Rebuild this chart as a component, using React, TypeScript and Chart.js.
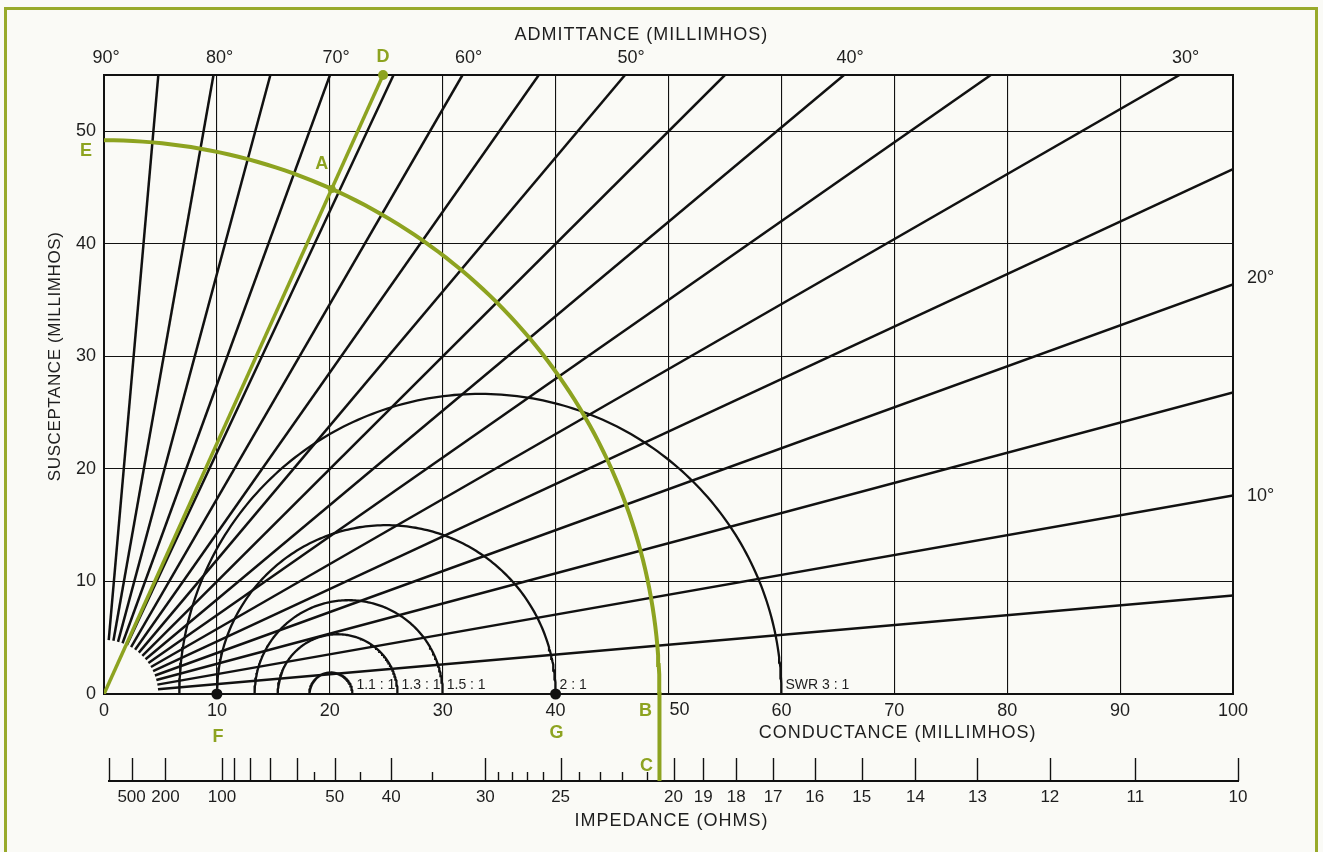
import React, { useEffect, useRef } from 'react';
import { Chart, registerables } from 'chart.js';

Chart.register(...registerables);

// ---- data ----
const CONDUCTANCE_TICKS = [0, 10, 20, 30, 40, 50, 60, 70, 80, 90, 100];
const SUSCEPTANCE_TICKS = [0, 10, 20, 30, 40, 50];
const CONDUCTANCE_MAX = 100;
const SUSCEPTANCE_MAX = 55;
const PHASE_ANGLES = [5, 10, 15, 20, 25, 30, 35, 40, 45, 50, 55, 60, 65, 70, 75, 80, 85];
const PHASE_LINE_START = 4.8;
const TOP_ANGLE_LABELS = [90, 80, 70, 60, 50, 40, 30];
const SIDE_ANGLE_LABELS = [20, 10];
const REFERENCE_ADMITTANCE = 20; // 50 ohms
const SWR_RATIOS = [1.1, 1.3, 1.5, 2, 3];
const SWR_LABELS = ['1.1 : 1', '1.3 : 1', '1.5 : 1', '2 : 1', 'SWR 3 : 1'];
const EXAMPLE_ADMITTANCE = 49.2;
const EXAMPLE_ANGLE = 65.8;
const MARKED_CONDUCTANCES = [10, 40];
const MARKED_LETTERS = ['F', 'G'];
const IMPEDANCE_LONG_TICKS = [Infinity, 500, 200, 100, 90, 80, 70, 60, 50, 40, 30, 25, 20, 19, 18, 17, 16, 15, 14, 13, 12, 11, 10];
const IMPEDANCE_SHORT_TICKS = [55, 45, 35, 29, 28, 27, 26, 24, 23, 22, 21];
const IMPEDANCE_LABELS = [500, 200, 100, 50, 40, 30, 25, 20, 19, 18, 17, 16, 15, 14, 13, 12, 11, 10];
const EXAMPLE_IMPEDANCE_TICK = 21;

// ---- styles ----
const FONT = '"Liberation Sans", Arial, sans-serif';
const GREEN = '#8da320';
const FRAME_GREEN = '#98aa2a';
const INK = '#111111';
const TEXT = '#1e1e1e';
const BG = '#fafaf6';

const rad = (d: number) => (d * Math.PI) / 180;
const toConductance = (z: number) => (z === Infinity ? 0 : 1000 / z);

const arcPoints = (cx: number, r: number, fromDeg: number, toDeg: number) => {
  const pts: { x: number; y: number }[] = [];
  for (let d = fromDeg; d <= toDeg; d += 1) {
    pts.push({ x: cx + r * Math.cos(rad(d)), y: r * Math.sin(rad(d)) });
  }
  return pts;
};

const phaseEnd = (a: number) => {
  const t = Math.tan(rad(a));
  return t * CONDUCTANCE_MAX <= SUSCEPTANCE_MAX
    ? { x: CONDUCTANCE_MAX, y: CONDUCTANCE_MAX * t }
    : { x: SUSCEPTANCE_MAX / t, y: SUSCEPTANCE_MAX };
};

function buildDatasets() {
  const base = { showLine: true, pointRadius: 0, fill: false, tension: 0 };
  const ds: any[] = [];
  PHASE_ANGLES.forEach((a) => {
    ds.push({
      ...base,
      data: [
        { x: PHASE_LINE_START * Math.cos(rad(a)), y: PHASE_LINE_START * Math.sin(rad(a)) },
        phaseEnd(a),
      ],
      borderColor: INK,
      borderWidth: 2.5,
      order: 5,
    });
  });
  SWR_RATIOS.forEach((s) => {
    const lo = REFERENCE_ADMITTANCE / s;
    const hi = REFERENCE_ADMITTANCE * s;
    ds.push({
      ...base,
      data: arcPoints((lo + hi) / 2, (hi - lo) / 2, 0, 180),
      borderColor: INK,
      borderWidth: 2.3,
      order: 4,
    });
  });
  // example: constant admittance arc and phase line
  ds.push({
    ...base,
    data: arcPoints(0, EXAMPLE_ADMITTANCE, 0, 90),
    borderColor: GREEN,
    borderWidth: 4,
    order: 1,
  });
  const dEnd = phaseEnd(EXAMPLE_ANGLE);
  ds.push({
    ...base,
    data: [{ x: 0, y: 0 }, dEnd],
    borderColor: GREEN,
    borderWidth: 3.5,
    order: 1,
  });
  ds.push({
    showLine: false,
    data: [dEnd],
    pointRadius: 5,
    pointBackgroundColor: GREEN,
    pointBorderWidth: 0,
    clip: false,
    order: 0,
  });
  ds.push({
    showLine: false,
    data: [{ x: EXAMPLE_ADMITTANCE * Math.cos(rad(EXAMPLE_ANGLE)), y: EXAMPLE_ADMITTANCE * Math.sin(rad(EXAMPLE_ANGLE)) }],
    pointRadius: 4,
    pointBackgroundColor: GREEN,
    pointBorderWidth: 0,
    order: 0,
  });
  ds.push({
    showLine: false,
    data: MARKED_CONDUCTANCES.map((g) => ({ x: g, y: 0 })),
    pointRadius: 5.5,
    pointBackgroundColor: INK,
    pointBorderWidth: 0,
    clip: false,
    order: 0,
  });
  return ds;
}

function text(
  ctx: CanvasRenderingContext2D,
  s: string,
  x: number,
  y: number,
  font: string,
  color: string,
  align: CanvasTextAlign = 'center',
  spacing = '0px'
) {
  ctx.save();
  ctx.font = font;
  ctx.fillStyle = color;
  ctx.textAlign = align;
  ctx.textBaseline = 'middle';
  (ctx as any).letterSpacing = spacing;
  ctx.fillText(s, x, y);
  ctx.restore();
}

const overlayPlugin = {
  id: 'overlay',
  beforeDraw(chart: any) {
    const { ctx, width, height } = chart;
    ctx.save();
    ctx.fillStyle = BG;
    ctx.fillRect(0, 0, width, height);
    ctx.strokeStyle = FRAME_GREEN;
    ctx.lineWidth = 3;
    ctx.beginPath();
    ctx.moveTo(5.5, height + 5);
    ctx.lineTo(5.5, 8.5);
    ctx.lineTo(width - 6.5, 8.5);
    ctx.lineTo(width - 6.5, height + 5);
    ctx.stroke();
    ctx.restore();
  },
  beforeDatasetsDraw(chart: any) {
    const { ctx, chartArea: a } = chart;
    ctx.save();
    ctx.strokeStyle = INK;
    ctx.lineWidth = 2;
    ctx.strokeRect(a.left, a.top, a.right - a.left, a.bottom - a.top);
    ctx.restore();
  },
  afterDatasetsDraw(chart: any) {
    const { ctx, chartArea: a } = chart;
    const xs = chart.scales.x;
    const ys = chart.scales.y;
    const px = (v: number) => xs.getPixelForValue(v);
    const py = (v: number) => ys.getPixelForValue(v);
    const f18 = `18px ${FONT}`;
    const f17 = `17px ${FONT}`;
    const bold = `bold 18px ${FONT}`;

    // top title and angle labels
    text(ctx, 'ADMITTANCE (MILLIMHOS)', px(47.6), a.top - 40, f18, TEXT, 'center', '1px');
    TOP_ANGLE_LABELS.forEach((ang) => {
      const gx = ang === 90 ? 0 : SUSCEPTANCE_MAX / Math.tan(rad(ang));
      text(ctx, `${ang}°`, px(gx) + (ang === 90 ? 2 : 6), a.top - 17, f18, TEXT);
    });
    SIDE_ANGLE_LABELS.forEach((ang) => {
      const gy = CONDUCTANCE_MAX * Math.tan(rad(ang));
      text(ctx, `${ang}°`, a.right + 14, py(gy) - (ang === 20 ? 6 : 0), f18, TEXT, 'left');
    });

    // axis titles
    text(ctx, 'CONDUCTANCE (MILLIMHOS)', px(70.3), a.bottom + 39, f18, TEXT, 'center', '1px');
    ctx.save();
    ctx.translate(55, py(30));
    ctx.rotate(-Math.PI / 2);
    text(ctx, 'SUSCEPTANCE (MILLIMHOS)', 0, 0, f17, TEXT, 'center', '0.6px');
    ctx.restore();
    // shifted "50" label
    text(ctx, '50', px(50) + 11, a.bottom + 16, f18, TEXT);

    // SWR labels
    SWR_RATIOS.forEach((s, i) => {
      text(ctx, SWR_LABELS[i], px(REFERENCE_ADMITTANCE * s) + 4, a.bottom - 9, `14px ${FONT}`, TEXT, 'left');
    });

    // impedance scale
    const off = 5;
    const axisY = a.bottom + 87;
    ctx.save();
    ctx.strokeStyle = INK;
    ctx.lineWidth = 2;
    ctx.beginPath();
    ctx.moveTo(px(0) + off - 1, axisY);
    ctx.lineTo(px(100) + off + 1, axisY);
    ctx.stroke();
    ctx.lineWidth = 1.4;
    IMPEDANCE_LONG_TICKS.forEach((z) => {
      const x = Math.round(px(toConductance(z)) + off) + 0.5;
      ctx.beginPath();
      ctx.moveTo(x, axisY);
      ctx.lineTo(x, axisY - 23);
      ctx.stroke();
    });
    IMPEDANCE_SHORT_TICKS.forEach((z) => {
      const x = Math.round(px(toConductance(z)) + off) + 0.5;
      ctx.beginPath();
      ctx.moveTo(x, axisY);
      ctx.lineTo(x, axisY - 9);
      ctx.stroke();
    });
    ctx.restore();
    IMPEDANCE_LABELS.forEach((z) => {
      text(ctx, String(z), px(toConductance(z)) + off, axisY + 16, f17, TEXT);
    });
    text(ctx, 'IMPEDANCE (OHMS)', px(50) + 3, axisY + 40, f18, TEXT, 'center', '1px');

    // example: B - C extension
    const bx = px(EXAMPLE_ADMITTANCE);
    ctx.save();
    ctx.strokeStyle = GREEN;
    ctx.lineWidth = 4;
    ctx.beginPath();
    ctx.moveTo(bx, a.bottom - 2);
    ctx.lineTo(bx, axisY);
    ctx.stroke();
    ctx.restore();

    // letters
    const ax = EXAMPLE_ADMITTANCE * Math.cos(rad(EXAMPLE_ANGLE));
    const ay = EXAMPLE_ADMITTANCE * Math.sin(rad(EXAMPLE_ANGLE));
    const dEnd = phaseEnd(EXAMPLE_ANGLE);
    text(ctx, 'A', px(ax) - 10, py(ay) - 25, bold, GREEN);
    text(ctx, 'D', px(dEnd.x), a.top - 18, bold, GREEN);
    text(ctx, 'E', px(0) - 18, py(EXAMPLE_ADMITTANCE) + 11, bold, GREEN);
    text(ctx, 'B', bx - 14, a.bottom + 17, bold, GREEN);
    text(ctx, 'C', px(toConductance(EXAMPLE_IMPEDANCE_TICK)) + off, axisY - 15, bold, GREEN);
    MARKED_CONDUCTANCES.forEach((g, i) => {
      text(ctx, MARKED_LETTERS[i], px(g) + 1, a.bottom + (i === 0 ? 43 : 39), bold, GREEN);
    });
  },
};

export default function App() {
  const ref = useRef<HTMLCanvasElement | null>(null);
  useEffect(() => {
    if (!ref.current) return;
    const chart = new Chart(ref.current, {
      type: 'scatter',
      data: { datasets: buildDatasets() },
      plugins: [overlayPlugin],
      options: {
        animation: false,
        responsive: false,
        devicePixelRatio: 1,
        events: [],
        layout: { padding: { left: 0, top: 75, right: 90, bottom: 0 } },
        plugins: { legend: { display: false }, tooltip: { enabled: false } },
        scales: {
          x: {
            type: 'linear',
            position: 'bottom',
            min: 0,
            max: CONDUCTANCE_MAX,
            afterBuildTicks: (s: any) => {
              s.ticks = CONDUCTANCE_TICKS.map((v) => ({ value: v }));
            },
            afterFit: (s: any) => {
              s.height = 158;
            },
            grid: { color: INK, lineWidth: 1.1, drawTicks: false },
            border: { display: false },
            ticks: {
              padding: 6,
              color: TEXT,
              font: { family: FONT, size: 18 },
              maxRotation: 0,
              autoSkip: false,
              callback: (v: any) => (v === 50 ? '' : String(v)),
            },
          },
          y: {
            type: 'linear',
            position: 'left',
            min: 0,
            max: SUSCEPTANCE_MAX,
            afterBuildTicks: (s: any) => {
              s.ticks = SUSCEPTANCE_TICKS.map((v) => ({ value: v }));
            },
            afterFit: (s: any) => {
              s.width = 104;
            },
            grid: { color: INK, lineWidth: 1.1, drawTicks: false },
            border: { display: false },
            ticks: {
              padding: 8,
              color: TEXT,
              font: { family: FONT, size: 18 },
              autoSkip: false,
              callback: (v: any) => String(v),
            },
          },
        },
      } as any,
    });
    return () => chart.destroy();
  }, []);
  return (
    <div style={{ position: 'fixed', left: 0, top: 0, width: 1323, height: 852, background: BG }}>
      <canvas ref={ref} width={1323} height={852} style={{ display: 'block', width: 1323, height: 852 }} />
    </div>
  );
}
